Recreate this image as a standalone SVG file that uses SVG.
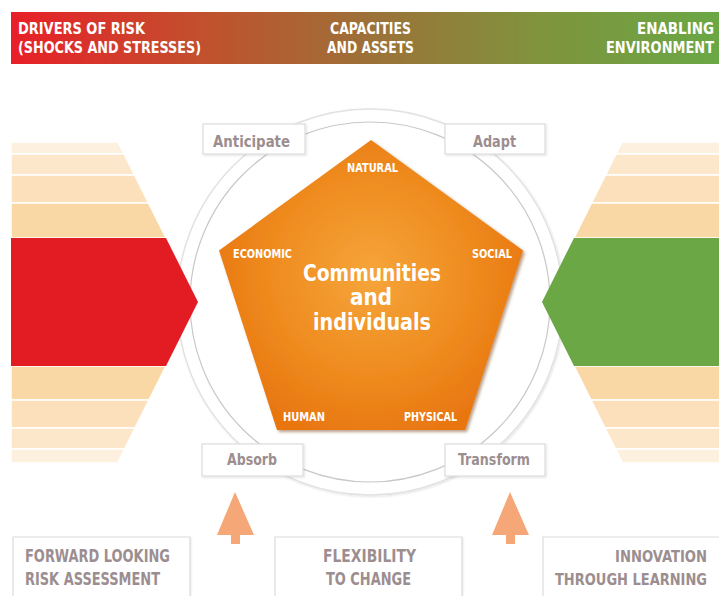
<svg xmlns="http://www.w3.org/2000/svg" xmlns:xlink="http://www.w3.org/1999/xlink" width="719" height="596" viewBox="0 0 719 596">
  <defs>
    <linearGradient id="banner" x1="0" y1="0" x2="1" y2="0">
      <stop offset="0" stop-color="#e81f28"/>
      <stop offset="0.28" stop-color="#c0522e"/>
      <stop offset="0.5" stop-color="#9d7038"/>
      <stop offset="0.75" stop-color="#7f943d"/>
      <stop offset="1" stop-color="#6aa745"/>
    </linearGradient>
    <radialGradient id="pent" cx="371" cy="275" r="175" gradientUnits="userSpaceOnUse">
      <stop offset="0" stop-color="#f6a53a"/>
      <stop offset="0.6" stop-color="#ee8a1e"/>
      <stop offset="1" stop-color="#e8740f"/>
    </radialGradient>
    <filter id="shadow" x="-10%" y="-10%" width="130%" height="130%">
      <feDropShadow dx="2" dy="2" stdDeviation="1.5" flood-color="#7a4010" flood-opacity="0.5"/>
    </filter>
    <filter id="boxshadow" x="-10%" y="-10%" width="130%" height="130%">
      <feDropShadow dx="1" dy="1" stdDeviation="1" flood-color="#000" flood-opacity="0.12"/>
    </filter>
    <g id="stripes">
      <polygon class="sA" points="11,142 118,142 124,154 11,154"/>
      <polygon class="sB" points="11,154 124,154 134.5,175 11,175"/>
      <polygon class="sC" points="11,175 134.5,175 148.5,203 11,203"/>
      <polygon class="sD" points="11,203 148.5,203 166,238 11,238"/>
      <polygon class="sD" points="11,366 166,366 149,400 11,400"/>
      <polygon class="sC" points="11,400 149,400 135,428 11,428"/>
      <polygon class="sB" points="11,428 135,428 124.5,449 11,449"/>
      <polygon class="sA" points="11,449 124.5,449 117.5,463 11,463"/>
    </g>
  </defs>
  <style>
    .sA { fill: #fdf0de; stroke: #ffffff; stroke-width: 1.5; }
    .sB { fill: #fce7ca; stroke: #ffffff; stroke-width: 1.5; }
    .sC { fill: #fbe0bb; stroke: #ffffff; stroke-width: 1.5; }
    .sD { fill: #f9d8a6; stroke: #ffffff; stroke-width: 1.5; }
    .t { font-family: "DejaVu Sans Condensed", "DejaVu Sans", "Liberation Sans", sans-serif; font-stretch: condensed; font-weight: bold; }
    .ban { fill: #ffffff; font-size: 16px; }
    .banr { fill: #ffffff; font-size: 15px; }
    .lab { fill: #9c8e90; font-size: 16px; }
    .cap { fill: #ffffff; font-size: 11.5px; }
    .main { fill: #ffffff; font-size: 23px; }
    .bot { fill: #9c8e90; font-size: 18px; }
    .botr { fill: #9c8e90; font-size: 15.5px; }
    .end { text-anchor: end; }
    .box { fill: #ffffff; stroke: #dedcdc; stroke-width: 1.2; }
    .boxfill { fill: #ffffff; }
    .boxline { fill: none; stroke: #dedcdc; stroke-width: 1.2; }
    .arrowhead { fill: #f5a777; }
  </style>

  <rect width="719" height="596" fill="#ffffff"/>

  <g id="banner-bar">
    <rect x="11" y="12" width="708" height="52" fill="url(#banner)"/>
    <text class="t ban" x="18" y="34" textLength="127" lengthAdjust="spacingAndGlyphs">DRIVERS OF RISK</text>
    <text class="t ban" x="18" y="53" textLength="183" lengthAdjust="spacingAndGlyphs">(SHOCKS AND STRESSES)</text>
    <text class="t ban" x="330" y="34" textLength="81" lengthAdjust="spacingAndGlyphs">CAPACITIES</text>
    <text class="t ban" x="327" y="53" textLength="87" lengthAdjust="spacingAndGlyphs">AND ASSETS</text>
    <text class="t banr end" x="714" y="34" textLength="77" lengthAdjust="spacingAndGlyphs">ENABLING</text>
    <text class="t banr end" x="714" y="53" textLength="108" lengthAdjust="spacingAndGlyphs">ENVIRONMENT</text>
  </g>

  <g id="ring">
    <circle cx="370" cy="302" r="193" fill="#ffffff" stroke="#e2e2e2" stroke-width="1.5" filter="url(#boxshadow)"/>
    <circle cx="370" cy="302" r="180" fill="#ffffff" stroke="#c8c8c8" stroke-width="1.2"/>
  </g>

  <g id="drivers">
    <use xlink:href="#stripes"/>
    <polygon points="11,238 166,238 198,302 166,366 11,366" fill="#e31c24"/>
  </g>

  <g id="enabling">
    <use xlink:href="#stripes" transform="translate(740,0) scale(-1,1)"/>
    <polygon points="729,238 574,238 542,302 574,366 729,366" fill="#6ba744"/>
  </g>

  <g id="anticipate">
    <rect class="box" x="203" y="124" width="102" height="30" filter="url(#boxshadow)"/>
    <text class="t lab" x="213" y="147" textLength="77" lengthAdjust="spacingAndGlyphs">Anticipate</text>
  </g>
  <g id="adapt">
    <rect class="box" x="445" y="124" width="100" height="30" filter="url(#boxshadow)"/>
    <text class="t lab" x="473" y="147" textLength="43" lengthAdjust="spacingAndGlyphs">Adapt</text>
  </g>
  <g id="absorb">
    <rect class="box" x="202" y="444" width="101" height="32" filter="url(#boxshadow)"/>
    <text class="t lab" x="227" y="465" textLength="50" lengthAdjust="spacingAndGlyphs">Absorb</text>
  </g>
  <g id="transform">
    <rect class="box" x="445" y="444" width="100" height="32" filter="url(#boxshadow)"/>
    <text class="t lab" x="458" y="465" textLength="72" lengthAdjust="spacingAndGlyphs">Transform</text>
  </g>

  <g id="communities">
    <polygon points="371,140 523,250.5 465,430 277,430 219,250.5" fill="url(#pent)" filter="url(#shadow)"/>
    <text class="t cap" x="347" y="172" textLength="51" lengthAdjust="spacingAndGlyphs">NATURAL</text>
    <text class="t cap" x="233" y="258" textLength="59" lengthAdjust="spacingAndGlyphs">ECONOMIC</text>
    <text class="t cap" x="472" y="258" textLength="40" lengthAdjust="spacingAndGlyphs">SOCIAL</text>
    <text class="t cap" x="283" y="421" textLength="42" lengthAdjust="spacingAndGlyphs">HUMAN</text>
    <text class="t cap" x="404" y="421" textLength="53" lengthAdjust="spacingAndGlyphs">PHYSICAL</text>
    <text class="t main" x="303" y="281" textLength="138" lengthAdjust="spacingAndGlyphs">Communities</text>
    <text class="t main" x="350" y="305" textLength="42" lengthAdjust="spacingAndGlyphs">and</text>
    <text class="t main" x="313" y="330" textLength="118" lengthAdjust="spacingAndGlyphs">individuals</text>
  </g>

  <g id="forward-looking">
    <rect class="boxfill" x="13" y="537" width="177" height="59" filter="url(#boxshadow)"/>
    <path class="boxline" d="M13,596 V537 H190 V596"/>
    <text class="t bot" x="25" y="562" textLength="145" lengthAdjust="spacingAndGlyphs">FORWARD LOOKING</text>
    <text class="t bot" x="25" y="585" textLength="135" lengthAdjust="spacingAndGlyphs">RISK ASSESSMENT</text>
  </g>
  <g id="flexibility">
    <rect class="boxfill" x="275" y="537" width="187" height="59" filter="url(#boxshadow)"/>
    <path class="boxline" d="M275,596 V537 H462 V596"/>
    <text class="t bot" x="323" y="562" textLength="93" lengthAdjust="spacingAndGlyphs">FLEXIBILITY</text>
    <text class="t bot" x="326" y="585" textLength="85" lengthAdjust="spacingAndGlyphs">TO CHANGE</text>
  </g>
  <g id="innovation">
    <rect class="boxfill" x="543" y="537" width="176" height="59"/>
    <path class="boxline" d="M543,596 V537 H719"/>
    <text class="t botr end" x="707" y="562" textLength="92" lengthAdjust="spacingAndGlyphs">INNOVATION</text>
    <text class="t botr end" x="707" y="585" textLength="152" lengthAdjust="spacingAndGlyphs">THROUGH LEARNING</text>
  </g>

  <g id="connectors">
    <polygon class="arrowhead" points="235,492 254,535 240,535 240,544 231,544 231,535 217,535 235,492"/>
    <polygon class="arrowhead" points="510,492 529,535 515,535 515,544 506,544 506,535 492,535 510,492"/>
  </g>
</svg>
